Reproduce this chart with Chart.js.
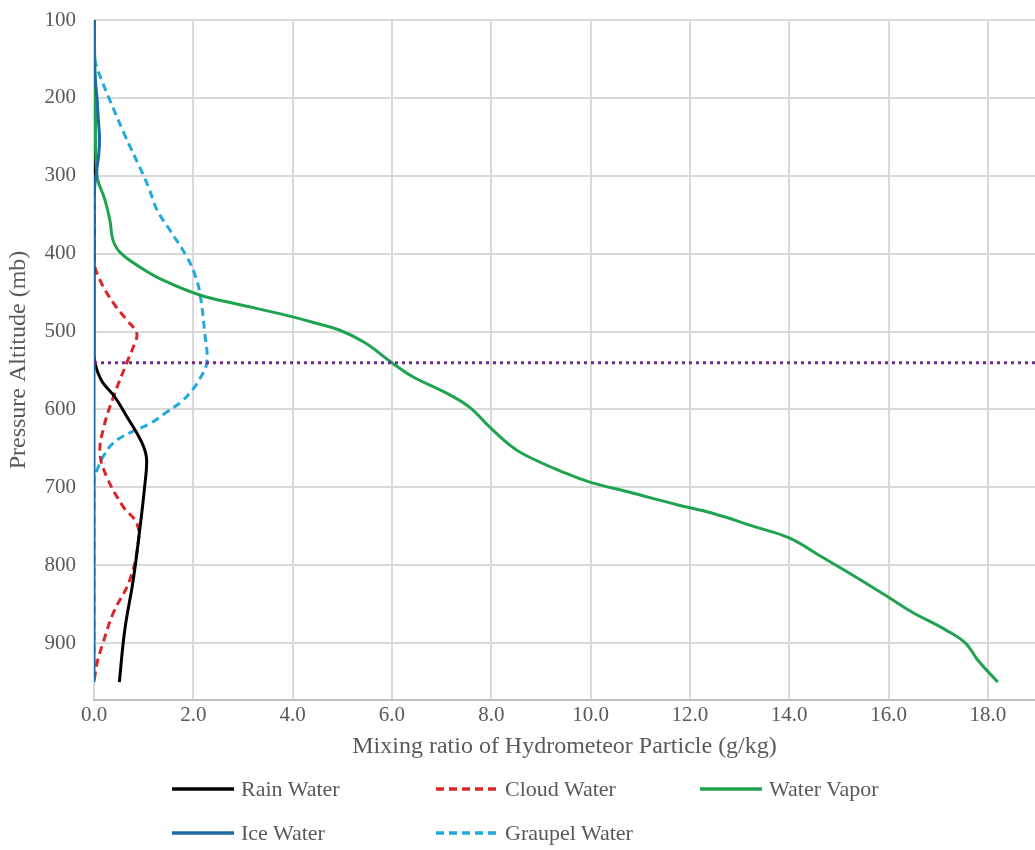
<!DOCTYPE html>
<html lang="en">
<head>
  <meta charset="UTF-8" />
  <title>Mixing ratio of Hydrometeor Particle</title>
  <script src="https://cdn.jsdelivr.net/npm/chart.js"></script>
  <style>
    body { margin: 0; background: #fff; font-family: "Liberation Serif", "DejaVu Serif", serif; }
    .chart-container { position: relative; width: 1035px; height: 765px; }
    .legend { position: absolute; left: 0; top: 0; width: 1035px; height: 850px; pointer-events: none; }
    .item { position: absolute; display: flex; align-items: center; height: 26px; font-size: 22px; color: #595959; }
    .item svg { margin-right: 7px; }
  </style>
</head>
<body>
  <div class="chart-container">
    <canvas id="mixChart"></canvas>
  </div>
  <div class="legend" id="legend"></div>

  <script>
    // pressure levels (mb) and mixing ratio (g/kg) per particle type
    const rainP  = [100, 300, 500, 530, 540, 553, 566, 584, 609, 630, 648, 665, 699, 755, 819, 883, 950];
    const rainQ  = [0, 0, 0, 0, 0.02, 0.08, 0.18, 0.42, 0.66, 0.86, 1.0, 1.06, 1.02, 0.92, 0.79, 0.62, 0.51];

    const cloudP = [100, 300, 408, 434, 466, 485, 502, 515, 540, 584, 622, 656, 687, 725, 746, 771, 819, 861, 900, 926, 950];
    const cloudQ = [0, 0, 0, 0.12, 0.42, 0.66, 0.86, 0.82, 0.66, 0.39, 0.2, 0.12, 0.26, 0.59, 0.86, 0.89, 0.72, 0.39, 0.18, 0.06, 0];

    const vaporP = [100, 200, 299, 331, 357, 382, 398, 417, 434, 453, 465, 477, 488, 498, 514, 540, 558, 579, 597, 622, 648,
                    661, 680, 693, 706, 723, 733, 751, 765, 789, 815, 841, 860, 883, 900, 922, 950];
    const vaporQ = [0, 0.03, 0.06, 0.22, 0.32, 0.38, 0.52, 0.92, 1.39, 2.13, 2.9, 3.74, 4.4, 4.94, 5.45, 6.0, 6.42, 7.1, 7.56, 7.96, 8.42,
                    8.76, 9.43, 9.97, 10.77, 11.78, 12.44, 13.33, 14.0, 14.65, 15.34, 16.0, 16.47, 17.15, 17.55, 17.8, 18.2];

    const iceP   = [100, 150, 180, 200, 230, 250, 270, 290, 310, 330, 600, 950];
    const iceQ   = [0, 0, 0.03, 0.06, 0.09, 0.11, 0.1, 0.06, 0.02, 0, 0, 0];

    const graupelP = [100, 140, 155, 175, 203, 245, 289, 315, 344, 370, 404, 425, 450, 502, 540, 562, 575, 590, 604, 618, 630, 643, 661, 678, 690, 950];
    const graupelQ = [0, 0, 0.03, 0.14, 0.32, 0.6, 0.92, 1.1, 1.27, 1.53, 1.87, 2.02, 2.13, 2.23, 2.27, 2.12, 1.98, 1.76, 1.45, 1.13, 0.72, 0.39, 0.18, 0.06, 0, 0];

    // dotted reference level
    const refLevel = 540;

    const yTicks = [100, 200, 300, 400, 500, 600, 700, 800, 900];
    const xTicks = [0, 2, 4, 6, 8, 10, 12, 14, 16, 18];

    const toPoints = (p, q) => p.map((v, i) => ({ x: q[i], y: v }));

    const series = [
      { label: "Rain Water", p: rainP, q: rainQ, color: "#000000", dash: [], order: 3 },
      { label: "Cloud Water", p: cloudP, q: cloudQ, color: "#d9262b", dash: [8, 5], order: 4 },
      { label: "Water Vapor", p: vaporP, q: vaporQ, color: "#1fa34f", dash: [], order: 2 },
      { label: "Ice Water", p: iceP, q: iceQ, color: "#1c6aa3", dash: [], order: 1 },
      { label: "Graupel Water", p: graupelP, q: graupelQ, color: "#22a9dd", dash: [8, 5], order: 5 }
    ];

    const datasets = series.map(s => ({
      label: s.label,
      data: toPoints(s.p, s.q),
      borderColor: s.color,
      backgroundColor: s.color,
      borderWidth: 3,
      borderDash: s.dash,
      showLine: true,
      pointRadius: 0,
      tension: 0.4,
      order: s.order
    }));

    datasets.push({
      label: "",
      data: [{ x: 0, y: refLevel }, { x: 18.95, y: refLevel }],
      borderColor: "#6b2f8f",
      borderWidth: 3,
      borderDash: [3, 4],
      showLine: true,
      pointRadius: 0,
      order: 0
    });

    const serif = "'Liberation Serif', 'DejaVu Serif', serif";

    new Chart(document.getElementById("mixChart"), {
      type: "scatter",
      data: { datasets: datasets },
      options: {
        responsive: true,
        maintainAspectRatio: false,
        animation: false,
        layout: { padding: { top: 20, right: 0, left: 0, bottom: 0 } },
        plugins: {
          legend: { display: false },
          tooltip: { enabled: false }
        },
        scales: {
          x: {
            type: "linear",
            min: 0,
            max: 18.95,
            afterBuildTicks: s => { s.ticks = xTicks.map(v => ({ value: v })); },
            afterFit: s => { s.height = 65; s.paddingLeft = 0; s.paddingRight = 0; },
            ticks: {
              color: "#595959",
              font: { family: serif, size: 21 },
              padding: 3,
              callback: v => v.toFixed(1)
            },
            grid: { color: "#d9d9d9", lineWidth: 2, drawTicks: false },
            border: { color: "#bfbfbf", width: 2 },
            title: {
              display: true,
              text: "Mixing ratio of Hydrometeor Particle (g/kg)",
              color: "#595959",
              font: { family: serif, size: 24 },
              padding: { top: 0, bottom: 4 }
            }
          },
          y: {
            type: "linear",
            reverse: true,
            min: 100,
            max: 973,
            afterBuildTicks: s => { s.ticks = yTicks.map(v => ({ value: v })); },
            afterFit: s => { s.width = 94; s.paddingTop = 0; s.paddingBottom = 0; },
            ticks: {
              color: "#595959",
              font: { family: serif, size: 21 },
              padding: 18
            },
            grid: { color: "#d9d9d9", lineWidth: 2, drawTicks: false },
            border: { display: false },
            title: {
              display: true,
              text: "Pressure Altitude (mb)",
              color: "#595959",
              font: { family: serif, size: 24 },
              padding: { bottom: 0, top: 4 }
            }
          }
        }
      }
    });

    // legend laid out in two rows like the original
    const slots = [
      { left: 172, top: 776 }, { left: 436, top: 776 }, { left: 700, top: 776 },
      { left: 172, top: 820 }, { left: 436, top: 820 }
    ];
    const legend = document.getElementById("legend");
    series.forEach((s, i) => {
      const item = document.createElement("div");
      item.className = "item";
      item.style.left = slots[i].left + "px";
      item.style.top = slots[i].top + "px";
      const dash = s.dash.length ? ' stroke-dasharray="' + s.dash.join(",") + '"' : "";
      item.innerHTML =
        '<svg width="62" height="6"><line x1="0" y1="3" x2="62" y2="3" stroke="' + s.color +
        '" stroke-width="3.5"' + dash + '/></svg><span>' + s.label + '</span>';
      legend.appendChild(item);
    });
  </script>
</body>
</html>
